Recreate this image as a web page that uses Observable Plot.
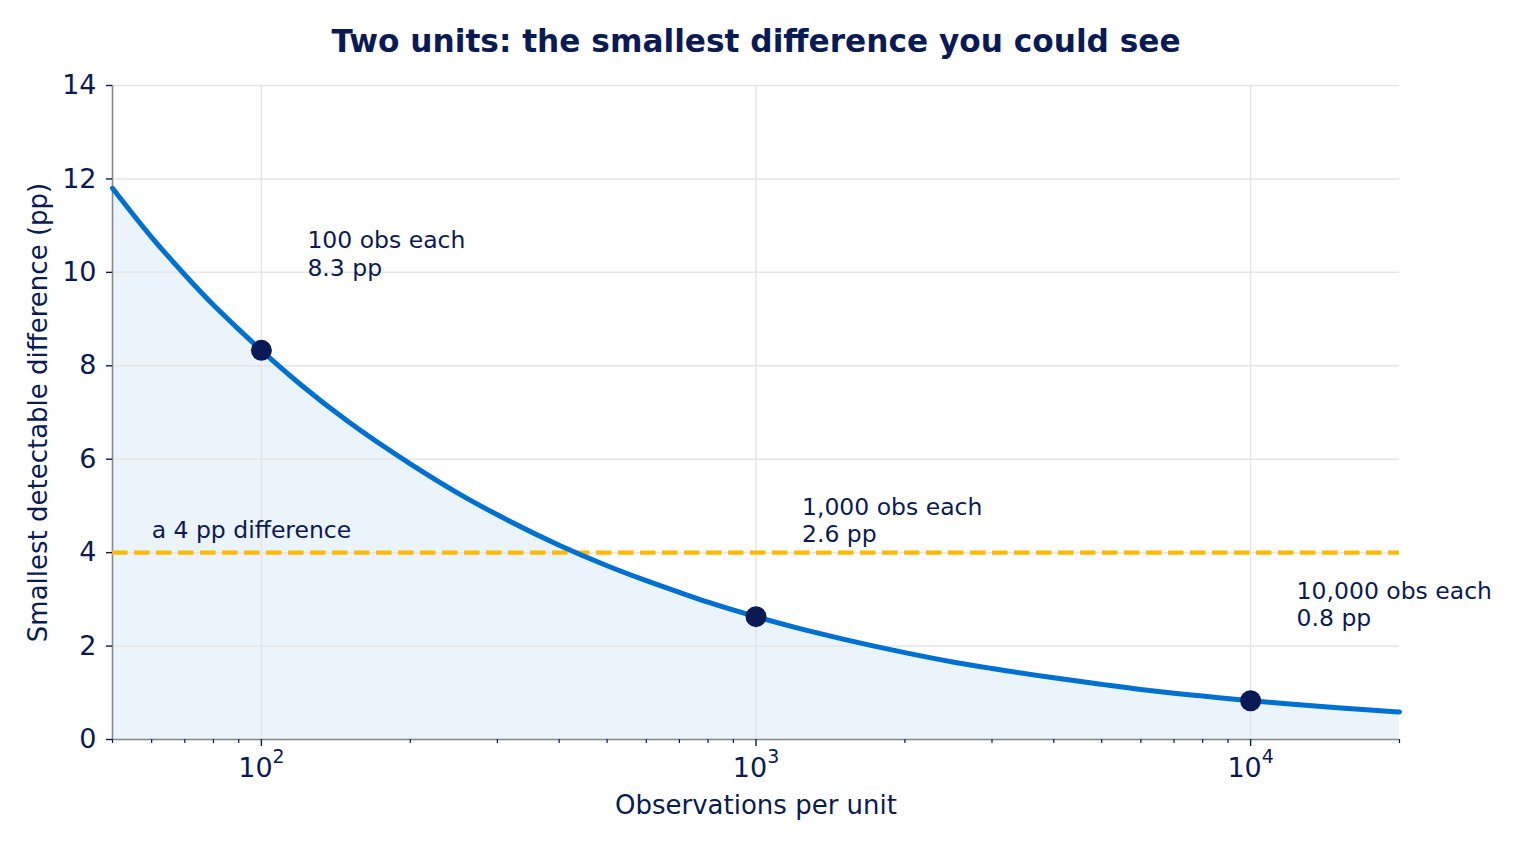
<!DOCTYPE html>
<html>
<head>
<meta charset="utf-8">
<script src="https://cdn.jsdelivr.net/npm/d3@7"></script>
<script src="https://cdn.jsdelivr.net/npm/@observablehq/plot@0.6"></script>
<style>
  html, body { margin: 0; padding: 0; background: #ffffff; }
  #chart svg { display: block; font-family: "DejaVu Sans", sans-serif; }
</style>
</head>
<body>
<div id="chart"></div>
<script>
// Curve: observations per unit -> smallest detectable difference (pp)
const obs = [50, 60, 70, 80, 90, 100, 120, 150, 200, 250, 300, 400, 500, 600, 700, 800, 1000, 1200, 1500, 2000, 2500, 3000, 4000, 5000, 6000, 7000, 8000, 10000, 12000, 15000, 20000];
const mdd = [11.8, 10.75, 9.95, 9.3, 8.78, 8.33, 7.6, 6.8, 5.9, 5.27, 4.81, 4.16, 3.72, 3.4, 3.15, 2.94, 2.63, 2.4, 2.15, 1.86, 1.66, 1.52, 1.32, 1.18, 1.07, 0.99, 0.93, 0.83, 0.76, 0.68, 0.59];

// Highlighted points
const markObs = [100, 1000, 10000];
const markVal = [8.33, 2.63, 0.83];
const markLabel = ["100 obs each", "1,000 obs each", "10,000 obs each"];

// Reference line
const threshold = 4;
const thresholdLabel = "a 4 pp difference";
const thresholdLabelX = 60;

// Axes
const xMajor = [100, 1000, 10000];
const xMajorBase = "10";
const xMajorExp = ["2", "3", "4"];
const xMinor = [50, 60, 70, 80, 90, 200, 300, 400, 500, 600, 700, 800, 900, 2000, 3000, 4000, 5000, 6000, 7000, 8000, 9000, 20000];
const yTicks = [0, 2, 4, 6, 8, 10, 12, 14];

const title = "Two units: the smallest difference you could see";
const xLabel = "Observations per unit";
const yLabel = "Smallest detectable difference (pp)";

const curve = obs.map((n, i) => ({n, v: mdd[i]}));
const pts = markObs.map((n, i) => ({n, v: markVal[i], label: markLabel[i] + "\n" + markVal[i].toFixed(1) + " pp"}));

const NAVY = "#0a1a55";
const BLUE = "#0070d1";
const ORANGE = "#ffb901";
const GRID = "#e5e5e5";
const SPINE = "#888888";

const chart = Plot.plot({
  width: 1530,
  height: 850,
  marginLeft: 112,
  marginRight: 131,
  marginTop: 85,
  marginBottom: 111,
  style: {fontFamily: "DejaVu Sans, sans-serif", background: "#ffffff"},
  x: {type: "log", domain: [50, 20000]},
  y: {domain: [0, 14]},
  marks: [
    Plot.areaY(curve, {x: "n", y: "v", fill: "#ebf3fb", curve: "monotone-x"}),
    Plot.gridX(xMajor, {stroke: GRID, strokeOpacity: 1, strokeWidth: 1.5}),
    Plot.gridY(yTicks, {stroke: GRID, strokeOpacity: 1, strokeWidth: 1.5}),
    Plot.ruleX([50], {stroke: SPINE, strokeWidth: 1.6}),
    Plot.ruleY([0], {stroke: SPINE, strokeWidth: 1.6}),
    Plot.axisX(xMinor, {tickSize: 4, tickFormat: () => "", stroke: NAVY, strokeWidth: 1.2, label: null}),
    Plot.axisX(xMajor, {tickSize: 7, tickPadding: 11, tickFormat: (d) => xMajorBase + "^" + xMajorExp[xMajor.indexOf(d)], stroke: NAVY, fill: NAVY, strokeWidth: 1.4, fontSize: 27, label: null}),
    Plot.axisY(yTicks, {tickSize: 6, tickPadding: 10, stroke: NAVY, fill: NAVY, strokeWidth: 1.4, fontSize: 27, label: null}),
    Plot.ruleY([threshold], {stroke: ORANGE, strokeWidth: 4.2, strokeDasharray: "15.5,6.5"}),
    Plot.text([thresholdLabel], {x: thresholdLabelX, y: threshold, text: (d) => d, textAnchor: "start", dy: -22, fill: NAVY, fontSize: 23.5}),
    Plot.line(curve, {x: "n", y: "v", stroke: BLUE, strokeWidth: 5, curve: "monotone-x"}),
    Plot.dot(pts, {x: "n", y: "v", r: 10.5, fill: NAVY, stroke: "none"}),
    Plot.text(pts, {x: "n", y: "v", text: "label", textAnchor: "start", lineAnchor: "middle", lineHeight: 1.16, dx: 46, dy: -97, fill: NAVY, fontSize: 23.5}),
    Plot.text([title], {frameAnchor: "top", text: (d) => d, dy: -43, lineAnchor: "middle", textAnchor: "middle", fontSize: 31.2, fontWeight: "bold", fill: NAVY}),
    Plot.text([xLabel], {frameAnchor: "bottom", text: (d) => d, dy: 66, lineAnchor: "middle", textAnchor: "middle", fontSize: 26, fill: NAVY}),
    Plot.text([yLabel], {frameAnchor: "left", text: (d) => d, dx: -74, rotate: -90, lineAnchor: "middle", textAnchor: "middle", fontSize: 26, fill: NAVY})
  ]
});
document.getElementById("chart").appendChild(chart);

// Render "10^k" tick labels with a real superscript
chart.querySelectorAll("text").forEach((t) => {
  const s = t.textContent;
  if (/^10\^\d$/.test(s)) {
    const [base, exp] = s.split("^");
    while (t.firstChild) t.removeChild(t.firstChild);
    const ns = "http://www.w3.org/2000/svg";
    const b = document.createElementNS(ns, "tspan");
    b.textContent = base;
    const e = document.createElementNS(ns, "tspan");
    e.textContent = exp;
    e.setAttribute("font-size", "0.7em");
    e.setAttribute("dy", "-0.74em");
    t.appendChild(b);
    t.appendChild(e);
  }
});
</script>
</body>
</html>
